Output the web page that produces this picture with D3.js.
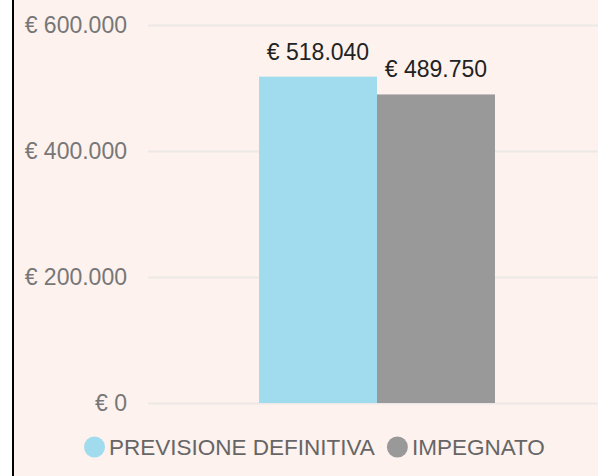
<!DOCTYPE html>
<html>
<head>
<meta charset="utf-8">
<script src="https://cdn.jsdelivr.net/npm/d3@7"></script>
<style>
  html, body { margin: 0; padding: 0; background: #ffffff; }
  svg { display: block; }
  text { font-family: "Liberation Sans", Arial, sans-serif; }
</style>
</head>
<body>
<script>
const categories = ["Totale"];
const seriesNames = ["PREVISIONE DEFINITIVA", "IMPEGNATO"];
const seriesValues = [518040, 489750];
const seriesColors = ["#a1dcee", "#999999"];
const yTicks = [0, 200000, 400000, 600000];

const W = 598, H = 476;
const svg = d3.select("body").append("svg").attr("width", W).attr("height", H);

// panel background + left border
svg.append("rect").attr("x", 14).attr("y", 0).attr("width", W - 14).attr("height", H).attr("fill", "#fdf2ee");
svg.append("rect").attr("x", 12).attr("y", 0).attr("width", 2).attr("height", H).attr("fill", "#000");

const plotLeft = 148, plotRight = 606;
const y = d3.scaleLinear().domain([0, 600000]).range([403, 25]);
const x0 = d3.scaleBand().domain(categories).range([plotLeft, plotRight]).paddingInner(0.32).paddingOuter(0.32);
const x1 = d3.scaleBand().domain(seriesNames).range([0, x0.bandwidth()]);

const fmt = v => "€ " + d3.format(",")(v).replace(/,/g, ".");

// gridlines + tick labels via axis
const axis = d3.axisLeft(y).tickValues(yTicks).tickSize(-(W - plotLeft)).tickPadding(21).tickFormat(fmt);
const gAxis = svg.append("g").attr("transform", `translate(${plotLeft},0)`).call(axis);
gAxis.select(".domain").remove();
gAxis.selectAll(".tick line").attr("stroke", "#ebe8e6").attr("stroke-width", 2);
gAxis.selectAll(".tick text").attr("fill", "#777").attr("font-size", 23)
  .attr("font-family", "'Liberation Sans', Arial, sans-serif");

// bars
const data = seriesNames.map((s, i) => ({ cat: categories[0], name: s, value: seriesValues[i], color: seriesColors[i] }));
const g = svg.append("g");
g.selectAll("rect.bar").data(data).enter().append("rect")
  .attr("class", "bar")
  .attr("x", d => x0(d.cat) + x1(d.name))
  .attr("width", x1.bandwidth())
  .attr("y", d => y(d.value))
  .attr("height", d => y(0) - y(d.value))
  .attr("fill", d => d.color);

g.selectAll("text.val").data(data).enter().append("text")
  .attr("class", "val")
  .attr("x", d => x0(d.cat) + x1(d.name) + x1.bandwidth() / 2)
  .attr("y", d => y(d.value) - 17)
  .attr("text-anchor", "middle")
  .attr("font-size", 23)
  .attr("fill", "#222")
  .text(d => fmt(d.value));

// legend
const legend = svg.append("g").attr("transform", "translate(84,447)");
let lx = 0;
seriesNames.forEach((s, i) => {
  const item = legend.append("g").attr("transform", `translate(${lx},0)`);
  item.append("circle").attr("cx", 10.5).attr("cy", 0).attr("r", 10.5).attr("fill", seriesColors[i]);
  const t = item.append("text").attr("x", 25).attr("y", 0).attr("dy", "0.35em")
    .attr("font-size", 22.5).attr("fill", "#666").text(s);
  lx += 25 + t.node().getComputedTextLength() + 12;
});
</script>
</body>
</html>
